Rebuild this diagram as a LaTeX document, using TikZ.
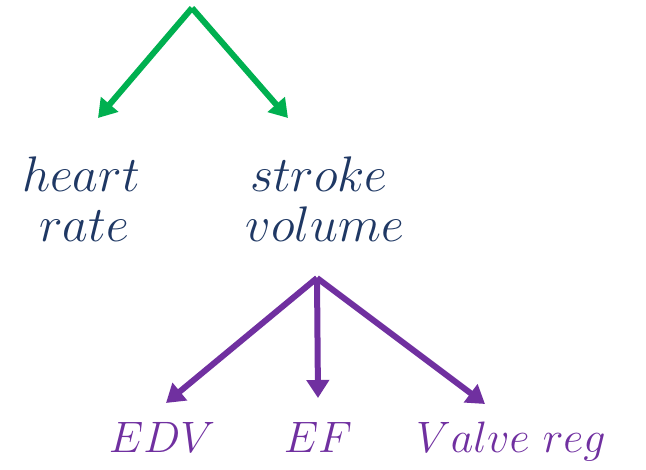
\documentclass[tikz,border=0pt]{standalone}
\usepackage{fix-cm}
\usetikzlibrary{arrows.meta}
\definecolor{navyt}{HTML}{1F3864}
\definecolor{greena}{HTML}{00B050}
\definecolor{purplea}{HTML}{7030A0}
\begin{document}
\begin{tikzpicture}[x=1pt,y=-1pt,
  navylbl/.style={inner sep=0pt,font=\fontsize{50}{50}\selectfont,text=navyt,anchor=base},
  purplbl/.style={inner sep=0pt,font=\fontsize{44}{50}\selectfont,text=purplea,anchor=base},
  garrow/.style={draw=greena,line width=6pt,-{Triangle[length=18pt,width=22pt]}},
  parrow/.style={draw=purplea,line width=6pt,-{Triangle[length=18pt,width=22pt]}}]
\useasboundingbox (0,0) rectangle (646,470);
% text nodes
\node[navylbl] (hr1) at (81,192) {$heart$};
\node[navylbl] (hr2) at (84,242) {$rate$};
\node[navylbl] (sv1) at (319,192) {$stroke$};
\node[navylbl] (sv2) at (325,242) {$volume$};
\node[purplbl] (edv) at (162,453) {$EDV$};
\node[purplbl] (ef) at (318,453) {$EF$};
\node[purplbl] (vr) at (511,453) {$Valve\ reg$};
% arrow points
\coordinate (gtop) at (192,8);
\coordinate (gl) at (98,118);
\coordinate (gr) at (288,118);
\coordinate (ptop) at (317,278);
\coordinate (pl) at (166,403);
\coordinate (pm) at (318,398);
\coordinate (pr) at (485,404);
\draw[garrow] (gtop) -- (gl);
\draw[garrow] (gtop) -- (gr);
\draw[parrow] (ptop) -- (pl);
\draw[parrow] (ptop) -- (pm);
\draw[parrow] (ptop) -- (pr);
\end{tikzpicture}
\end{document}
